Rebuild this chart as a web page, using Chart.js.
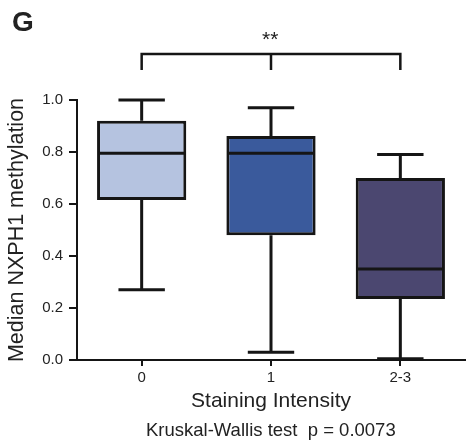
<!DOCTYPE html>
<html>
<head>
<meta charset="utf-8">
<script src="https://cdn.jsdelivr.net/npm/chart.js@4.4.0/dist/chart.umd.min.js"></script>
<style>
  html, body { margin: 0; padding: 0; background: #fff; }
  #wrap { position: relative; width: 466px; height: 444px; font-family: "Liberation Sans", Arial, sans-serif; color: #222; }
  canvas { position: absolute; left: 0; top: 0; }
  .lbl { position: absolute; white-space: nowrap; line-height: 1; }
</style>
</head>
<body>
<div id="wrap">
  <canvas id="c" width="466" height="444"></canvas>
  <div class="lbl" style="left:12px;top:8px;font-size:28px;font-weight:bold;color:#222;">G</div>
  <div class="lbl" id="stars" style="left:262px;top:28px;font-size:21px;color:#222;">**</div>
  <div class="lbl" id="foot" style="left:146px;top:421px;font-size:18.5px;color:#222;">Kruskal-Wallis test&nbsp; p = 0.0073</div>
</div>
<script>
const categories = ["0", "1", "2-3"];
const whiskerMin = [0.27, 0.03, 0.005];
const q1Values   = [0.615, 0.48, 0.235];
const medians    = [0.795, 0.795, 0.35];
const q3Values   = [0.92, 0.862, 0.70];
const whiskerMax = [1.0, 0.97, 0.79];
const yTicks = [0, 0.2, 0.4, 0.6, 0.8, 1.0];
const boxColors = ["#b5c3e0", "#3a5a9c", "#4b4770"];

const FONT = "'Liberation Sans', Arial, sans-serif";
const INK = "#151515";

const boxPlugin = {
  id: "boxParts",
  afterDatasetsDraw(chart) {
    const ctx = chart.ctx;
    const x = chart.scales.x, y = chart.scales.y;
    const meta = chart.getDatasetMeta(0);
    ctx.save();
    ctx.strokeStyle = INK;
    ctx.lineWidth = 3;
    ctx.lineCap = "butt";
    categories.forEach((c, i) => {
      const bar = meta.data[i];
      const cx = x.getPixelForValue(i);
      const w = bar.width;
      const capW = w * 0.52;
      const yMin = y.getPixelForValue(whiskerMin[i]);
      const yMax = y.getPixelForValue(whiskerMax[i]);
      const yQ1 = y.getPixelForValue(q1Values[i]);
      const yQ3 = y.getPixelForValue(q3Values[i]);
      const yMed = y.getPixelForValue(medians[i]);
      ctx.beginPath();
      ctx.moveTo(cx, yQ3); ctx.lineTo(cx, yMax);
      ctx.moveTo(cx - capW / 2, yMax); ctx.lineTo(cx + capW / 2, yMax);
      ctx.moveTo(cx, yQ1); ctx.lineTo(cx, yMin);
      ctx.moveTo(cx - capW / 2, yMin); ctx.lineTo(cx + capW / 2, yMin);
      ctx.moveTo(cx - w / 2 + 1, yMed); ctx.lineTo(cx + w / 2 - 1, yMed);
      ctx.stroke();
    });
    // bracket
    const x0 = x.getPixelForValue(0), x1 = x.getPixelForValue(1), x2 = x.getPixelForValue(2);
    ctx.lineWidth = 2.5;
    ctx.beginPath();
    ctx.moveTo(x0, 70); ctx.lineTo(x0, 54); ctx.lineTo(x2, 54); ctx.lineTo(x2, 70);
    ctx.moveTo(x1, 54); ctx.lineTo(x1, 70);
    ctx.stroke();
    // x axis extension to the left of y axis
    ctx.lineWidth = 2;
    ctx.beginPath();
    ctx.moveTo(chart.chartArea.left - 8, y.getPixelForValue(0));
    ctx.lineTo(chart.chartArea.left, y.getPixelForValue(0));
    ctx.stroke();
    ctx.restore();
  }
};

new Chart(document.getElementById("c"), {
  type: "bar",
  data: {
    labels: categories,
    datasets: [{
      data: categories.map((c, i) => [q1Values[i], q3Values[i]]),
      backgroundColor: boxColors,
      borderColor: INK,
      borderWidth: 3,
      borderSkipped: false,
      barPercentage: 0.69,
      categoryPercentage: 1.0
    }]
  },
  options: {
    responsive: false,
    animation: false,
    events: [],
    layout: { padding: { left: 0, top: 100, right: 1, bottom: 30 } },
    plugins: { legend: { display: false }, tooltip: { enabled: false } },
    scales: {
      x: {
        type: "category",
        offset: true,
        grid: { display: true, offset: false, drawOnChartArea: false, drawTicks: true, tickLength: 6, color: INK, lineWidth: 2 },
        border: { display: true, color: INK, width: 2 },
        ticks: { color: "#222", font: { family: FONT, size: 15 }, padding: 3 },
        title: { display: true, text: "Staining Intensity", color: "#222", font: { family: FONT, size: 21 }, padding: { top: 2, bottom: 0 } },
        afterFit(s) { s.height = 54; }
      },
      y: {
        min: 0, max: 1,
        afterBuildTicks(s) { s.ticks = yTicks.map(v => ({ value: v })); },
        grid: { display: true, drawOnChartArea: false, drawTicks: true, tickLength: 8, color: INK, lineWidth: 2 },
        border: { display: true, color: INK, width: 2 },
        ticks: { color: "#222", font: { family: FONT, size: 15 }, padding: 6, callback: v => Number(v).toFixed(1) },
        title: { display: true, text: "Median NXPH1 methylation", color: "#222", font: { family: FONT, size: 21.5 }, padding: { top: 4, bottom: 4 } },
        afterFit(s) { s.width = 77; }
      }
    }
  },
  plugins: [boxPlugin]
});
</script>
</body>
</html>
